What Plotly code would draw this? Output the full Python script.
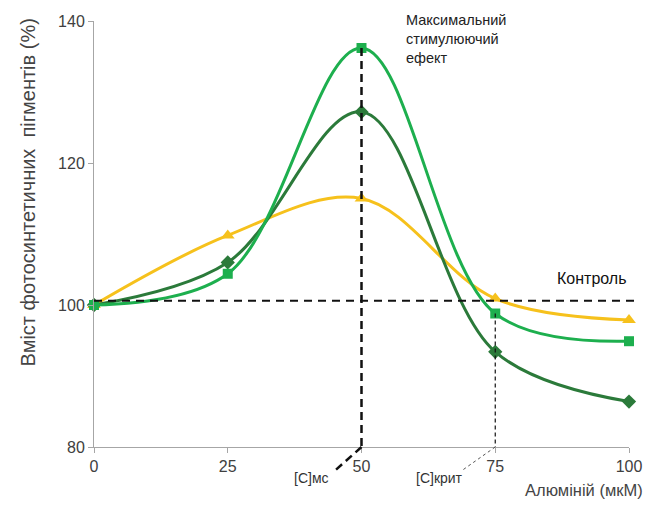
import plotly.graph_objects as go

x_vals = [0, 25, 50, 75, 100]
series_light = [100, 104.4, 136.2, 98.8, 94.9]   # squares
series_dark = [100, 106.0, 127.2, 93.4, 86.4]    # diamonds
series_yellow = [100, 109.8, 115.0, 100.9, 97.9] # triangles
control_level = 100.6
x_ticks = [0, 25, 50, 75, 100]
y_ticks = [80, 100, 120, 140]
x_range = [0, 100]
y_range = [80, 140]

C_LIGHT = "#1DAF4E"
C_DARK = "#2B7A3A"
C_YELLOW = "#F6C11C"

fig = go.Figure()

def add_series(y, color, symbol, size):
    fig.add_trace(go.Scatter(
        x=x_vals, y=y, mode="lines+markers",
        line=dict(color=color, width=3, shape="spline", smoothing=1.0),
        marker=dict(symbol=symbol, size=size, color=color),
        cliponaxis=False, showlegend=False))

add_series(series_yellow, C_YELLOW, "triangle-up", 12)
add_series(series_dark, C_DARK, "diamond", 11)
add_series(series_light, C_LIGHT, "square", 10)

shapes = [
    # control line
    dict(type="line", xref="paper", yref="y", x0=0, x1=1.02, y0=control_level, y1=control_level,
         line=dict(color="#111111", width=2, dash="8px,6px"), layer="above"),
    # vertical at 50
    dict(type="line", xref="x", yref="y", x0=50, x1=50, y0=series_light[2], y1=80,
         line=dict(color="#111111", width=2.5, dash="8px,5px"), layer="above"),
    dict(type="line", xref="x", yref="paper", x0=50, x1=44.8, y0=0, y1=-0.058,
         line=dict(color="#111111", width=2.5, dash="8px,5px")),
    # vertical at 75
    dict(type="line", xref="x", yref="y", x0=75, x1=75, y0=series_light[3], y1=80,
         line=dict(color="#111111", width=1.2, dash="4px,3px"), layer="above"),
    dict(type="line", xref="x", yref="paper", x0=75, x1=68.8, y0=0, y1=-0.055,
         line=dict(color="#555555", width=1, dash="3px,3px")),
]

annotations = [
    dict(text="Максимальний<br>стимулюючий<br>ефект", xref="x", yref="paper", x=58.0, y=1.026,
         xanchor="left", yanchor="top", align="left", showarrow=False,
         font=dict(size=14.5, color="#222222")),
    dict(text="Контроль", xref="paper", yref="paper", x=1.0, y=0.372,
         xanchor="right", yanchor="bottom", showarrow=False,
         font=dict(size=16, color="#111111")),
    dict(text="[C]мс", xref="x", yref="paper", x=44.3, y=-0.073,
         xanchor="right", yanchor="middle", showarrow=False,
         font=dict(size=14, color="#333333")),
    dict(text="[С]крит", xref="x", yref="paper", x=69.3, y=-0.073,
         xanchor="right", yanchor="middle", showarrow=False,
         font=dict(size=14, color="#333333")),
    dict(text="Алюміній (мкМ)", xref="paper", yref="paper", x=1.03, y=-0.102,
         xanchor="right", yanchor="middle", showarrow=False,
         font=dict(size=16.5, color="#444444")),
    dict(text="Вміст фотосинтетичних  пігментів (%)", xref="paper", yref="paper",
         x=-0.123, y=0.598, textangle=-90, xanchor="center", yanchor="middle",
         showarrow=False, font=dict(size=20, color="#444444")),
]

fig.update_layout(
    width=654, height=505,
    margin=dict(l=94, r=17, t=21, b=58),
    paper_bgcolor="white", plot_bgcolor="white",
    font=dict(family="Liberation Sans, Arial, sans-serif"),
    shapes=shapes, annotations=annotations,
    showlegend=False,
)
fig.update_xaxes(range=x_range, tickvals=x_ticks, showgrid=False, zeroline=False,
                 showline=True, linecolor="#A6A6A6", linewidth=1,
                 ticks="outside", ticklen=5, tickcolor="#A6A6A6",
                 tickfont=dict(size=16, color="#404040"))
fig.update_yaxes(range=y_range, tickvals=y_ticks, showgrid=False, zeroline=False,
                 showline=True, linecolor="#A6A6A6", linewidth=1,
                 ticks="outside", ticklen=5, tickcolor="#A6A6A6",
                 tickfont=dict(size=16, color="#404040"))

fig.write_html(
    "out.html",
    config={"displayModeBar": False},
    post_script="document.body.style.margin='0';document.body.style.overflow='hidden';",
)
